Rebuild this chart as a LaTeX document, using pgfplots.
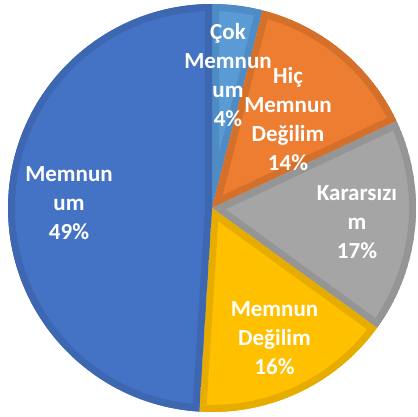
\documentclass[border=0pt]{standalone}
\usepackage{pgfplots}
\pgfplotsset{compat=1.18}
\usepackage{pgfplotstable}
\usepackage{fontspec}
\setmainfont{Carlito}

\definecolor{cokfill}{HTML}{5B9BD5}
\definecolor{cokline}{HTML}{4F8BC4}
\definecolor{hicfill}{HTML}{ED7D31}
\definecolor{hicline}{HTML}{D5702B}
\definecolor{kararfill}{HTML}{A5A5A5}
\definecolor{kararline}{HTML}{959595}
\definecolor{degilfill}{HTML}{FFC000}
\definecolor{degilline}{HTML}{E6AD00}
\definecolor{memfill}{HTML}{4472C4}
\definecolor{memline}{HTML}{3D67B1}

% shares in percent, clockwise from 12 o'clock
\pgfplotstableread{
value
4
14
17
16
49
}\piedata

\pgfplotstablegetelem{0}{value}\of\piedata \let\vA\pgfplotsretval
\pgfplotstablegetelem{1}{value}\of\piedata \let\vB\pgfplotsretval
\pgfplotstablegetelem{2}{value}\of\piedata \let\vC\pgfplotsretval
\pgfplotstablegetelem{3}{value}\of\piedata \let\vD\pgfplotsretval
\pgfplotstablegetelem{4}{value}\of\piedata \let\vE\pgfplotsretval
\pgfmathsetmacro{\aA}{90-3.6*\vA}
\pgfmathsetmacro{\aB}{\aA-3.6*\vB}
\pgfmathsetmacro{\aC}{\aB-3.6*\vC}
\pgfmathsetmacro{\aD}{\aC-3.6*\vD}
\pgfmathsetmacro{\aE}{\aD-3.6*\vE}

\def\R{204}
% #1 start angle, #2 end angle, #3 fill, #4 border
\newcommand{\pieslice}[4]{%
  \begin{scope}
    \clip (axis cs:0,0) -- (axis cs:{\R*cos(#1)},{\R*sin(#1)})
      arc[start angle=#1, end angle=#2, radius=\R pt] -- cycle;
    \fill[#3] (axis cs:0,0) -- (axis cs:{\R*cos(#1)},{\R*sin(#1)})
      arc[start angle=#1, end angle=#2, radius=\R pt] -- cycle;
    \draw[#4, line width=14pt, line join=miter] (axis cs:0,0) -- (axis cs:{\R*cos(#1)},{\R*sin(#1)})
      arc[start angle=#1, end angle=#2, radius=\R pt] -- cycle;
  \end{scope}}

\tikzset{lbl/.style={text=white, align=center, inner sep=0pt,
  font=\bfseries\fontsize{23}{29}\selectfont}}

\begin{document}
\begin{tikzpicture}
\begin{axis}[
    hide axis,
    scale only axis,
    x=1pt, y=1pt,
    xmin=-212, xmax=206,
    ymin=-208, ymax=208,
    clip=false,
    anchor=south west, at={(0,0)},
]
\pieslice{90}{\aA}{cokfill}{cokline}
\pieslice{\aA}{\aB}{hicfill}{hicline}
\pieslice{\aB}{\aC}{kararfill}{kararline}
\pieslice{\aC}{\aD}{degilfill}{degilline}
\pieslice{\aD}{\aE}{memfill}{memline}

\node[lbl] at (axis cs:16,133) {Çok\\Memnun\\um\\4\%};
\node[lbl] at (axis cs:76,89) {Hiç\\Memnun\\Değilim\\14\%};
\node[lbl] at (axis cs:145,-14.5) {Kararsızı\\m\\17\%};
\node[lbl] at (axis cs:62.5,-130) {Memnun\\Değilim\\16\%};
\node[lbl] at (axis cs:-143,4.5) {Memnun\\um\\49\%};
\end{axis}
\pgfresetboundingbox
\useasboundingbox (0,0) rectangle (418pt,416pt);
\end{tikzpicture}
\end{document}
